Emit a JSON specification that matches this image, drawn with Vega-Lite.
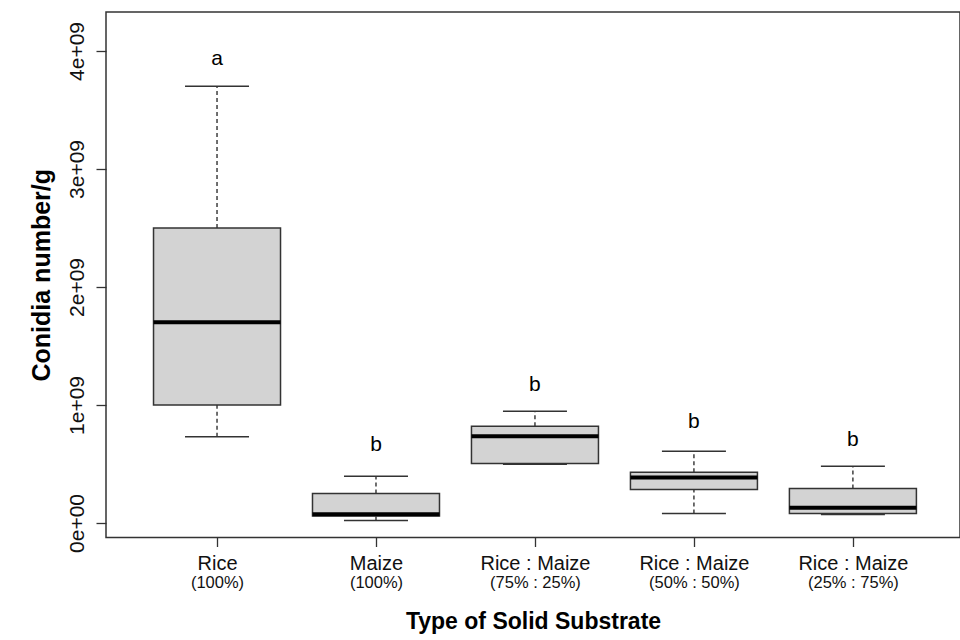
{
  "$schema": "https://vega.github.io/schema/vega-lite/v6.json",
  "autosize": "none",
  "width": 854,
  "height": 525.5,
  "padding": {"left": 106, "top": 12, "right": 0, "bottom": 102.5},
  "background": "white",
  "config": {
    "view": {"stroke": "#333333", "strokeWidth": 1.5},
    "font": "Liberation Sans"
  },
  "data": {
    "values": [
      {"group": "Rice (100%)", "lower": 730000000, "q1": 1000000000, "median": 1700000000, "q3": 2500000000, "upper": 3700000000, "letter": "a", "letter_y": 3930000000},
      {"group": "Maize (100%)", "lower": 20000000, "q1": 60000000, "median": 75000000, "q3": 250000000, "upper": 395000000, "letter": "b", "letter_y": 660000000},
      {"group": "Rice : Maize (75% : 25%)", "lower": 497000000, "q1": 505000000, "median": 734000000, "q3": 820000000, "upper": 947000000, "letter": "b", "letter_y": 1170000000},
      {"group": "Rice : Maize (50% : 50%)", "lower": 81000000, "q1": 284000000, "median": 386000000, "q3": 429000000, "upper": 607000000, "letter": "b", "letter_y": 853000000},
      {"group": "Rice : Maize (25% : 75%)", "lower": 72000000, "q1": 80000000, "median": 130000000, "q3": 293000000, "upper": 480000000, "letter": "b", "letter_y": 700000000}
    ]
  },
  "resolve": {"axis": {"x": "independent"}},
  "layer": [
    {
      "mark": {"type": "rule", "strokeDash": [4, 3], "strokeWidth": 1.3, "color": "#222222"},
      "encoding": {
        "x": {"field": "group", "type": "nominal", "sort": null, "scale": {"type": "point", "padding": 0.686, "align": 0.509}, "axis": null},
        "y": {"field": "lower", "type": "quantitative", "scale": {"domain": [-123000000, 4330000000], "nice": false, "zero": false},
          "axis": {"title": "Conidia number/g", "titleFont": "Liberation Sans", "titleFontWeight": "bold", "titleFontSize": 25, "titleColor": "black", "titlePadding": 12,
            "values": [0, 1000000000, 2000000000, 3000000000, 4000000000],
            "labelExpr": "datum.value == 0 ? '0e+00' : toString(round(datum.value / 1000000000)) + 'e+09'",
            "labelAngle": -90, "labelAlign": "center", "labelBaseline": "bottom", "labelFontSize": 21, "labelColor": "#111111", "labelPadding": 9,
            "tickSize": 10, "tickColor": "#333333", "tickWidth": 1.3, "domain": false, "grid": false}},
        "y2": {"field": "q1"}
      }
    },
    {
      "mark": {"type": "rule", "strokeDash": [4, 3], "strokeWidth": 1.3, "color": "#222222"},
      "encoding": {
        "x": {"field": "group", "type": "nominal", "sort": null, "axis": null},
        "y": {"field": "q3", "type": "quantitative"},
        "y2": {"field": "upper"}
      }
    },
    {
      "mark": {"type": "tick", "size": 64, "thickness": 1.5, "color": "#333333", "opacity": 1},
      "encoding": {
        "x": {"field": "group", "type": "nominal", "sort": null, "axis": null},
        "y": {"field": "lower", "type": "quantitative"}
      }
    },
    {
      "mark": {"type": "tick", "size": 64, "thickness": 1.5, "color": "#333333", "opacity": 1},
      "encoding": {
        "x": {"field": "group", "type": "nominal", "sort": null, "axis": null},
        "y": {"field": "upper", "type": "quantitative"}
      }
    },
    {
      "mark": {"type": "bar", "size": 127, "fill": "#d3d3d3", "stroke": "#333333", "strokeWidth": 1.5, "opacity": 1},
      "encoding": {
        "x": {"field": "group", "type": "nominal", "sort": null,
          "axis": {"title": null, "labelExpr": "slice(datum.label, 0, indexof(datum.label, ' ('))", "labelAngle": 0, "labelFontSize": 20, "labelColor": "#111111", "labelPadding": 7,
            "tickSize": 9, "tickColor": "#333333", "tickWidth": 1.3, "domain": false, "grid": false}},
        "y": {"field": "q1", "type": "quantitative"},
        "y2": {"field": "q3"}
      }
    },
    {
      "mark": {"type": "tick", "size": 127, "thickness": 4, "color": "black", "opacity": 1},
      "encoding": {
        "x": {"field": "group", "type": "nominal", "sort": null, "axis": null},
        "y": {"field": "median", "type": "quantitative"}
      }
    },
    {
      "mark": {"type": "text", "fontSize": 21, "baseline": "middle", "align": "center", "color": "black", "font": "Liberation Sans"},
      "encoding": {
        "x": {"field": "group", "type": "nominal", "sort": null,
          "axis": {"orient": "bottom", "title": "Type of Solid Substrate", "titleFont": "Liberation Sans", "titleFontWeight": "bold", "titleFontSize": 23, "titleColor": "black", "titlePadding": 19,
            "labelExpr": "slice(datum.label, indexof(datum.label, ' (') + 1)", "labelAngle": 0, "labelFontSize": 16.5, "labelColor": "#111111", "labelPadding": 37,
            "ticks": false, "domain": false, "grid": false}},
        "y": {"field": "letter_y", "type": "quantitative"},
        "text": {"field": "letter"}
      }
    }
  ]
}
